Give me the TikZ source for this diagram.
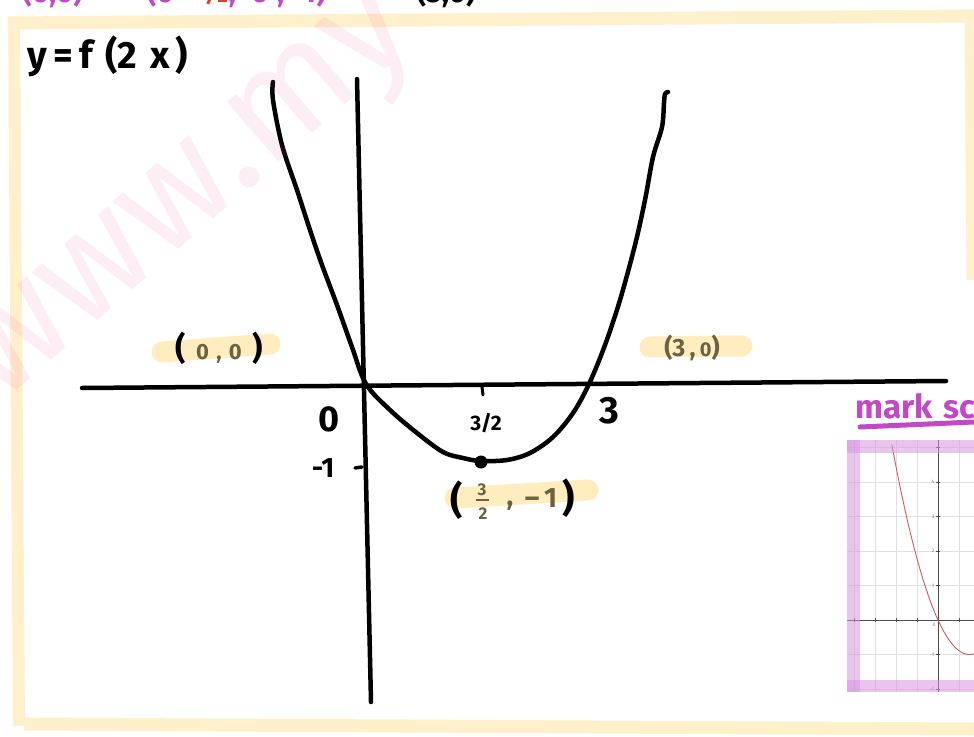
\documentclass[tikz,border=0pt]{standalone}
\usepackage{fontspec}
\setmainfont{Fira Sans}
\newfontfamily\dejavu{DejaVu Sans}
\definecolor{frameyel}{RGB}{255,240,204}
\definecolor{hlyel}{RGB}{255,237,192}
\definecolor{olivetxt}{RGB}{108,98,66}
\definecolor{mpurple}{RGB}{195,72,200}
\definecolor{mred}{RGB}{230,60,50}
\definecolor{wmpink}{RGB}{240,80,150}
\definecolor{bandpurple}{RGB}{215,150,225}
\definecolor{gridgray}{RGB}{224,224,224}
\definecolor{curvered}{RGB}{200,95,95}
\newcommand{\fs}[1]{\fontsize{#1}{#1}\selectfont}
\tikzset{
  ink/.style={black, line width=4.5pt, line cap=round, line join=round},
  hl/.style={hlyel, line width=21pt, line cap=round},
  band/.style={frameyel, line width=12pt, line cap=butt},
  pband/.style={bandpurple, opacity=0.55},
  lbl/.style={inner sep=0pt, text=black},
  tiny/.style={inner sep=0pt, text=gray, font=\fs{5}},
}
\begin{document}
\begin{tikzpicture}[x=1pt,y=-1pt]
\useasboundingbox (0,0) rectangle (974,736);
\fill[white] (0,0) rectangle (974,736);

% cut-off text at the top
\node[anchor=base west, inner sep=0pt, font=\bfseries\fs{30}] (toptext) at (22,2)
  {\textcolor{mpurple}{(0,0)\quad{\dejavu →}\;(0\,}\textcolor{mred}{×\,½}\textcolor{mpurple}{,\; 0\;,\; 4)}\qquad\quad\textcolor{black}{(3,0)}};

% yellow frame
\draw[band] (14,20) -- (19,726);
\draw[band, line width=13pt] (8,23) -- (974,16);
\draw[band, line width=13pt] (24,724) -- (974,729);
\draw[band, line width=9pt] (969,20) -- (971,280);

% title
\node[lbl, anchor=west, font=\bfseries\fs{38}] (title) at (27,56) {y\,=\,f\,\,(2\,\,x\,)};

% highlights
\draw[hl] (162,352) -- (270,344);
\draw[hl] (650,347) -- (742,346);
\draw[hl] (455,498) -- (588,490);

% axes
\draw[ink] (82,388) -- (946,381);
\draw[ink] (357,79) -- (371,702);

% ticks
\draw[ink, line width=3pt] (482,387) -- (483,395);
\draw[ink, line width=3.5pt] (355,468) -- (362,467);

% parabola
\draw[ink] plot[smooth, tension=0.55] coordinates {
  (273,82) (273,100) (282,145) (297,190) (310,230) (322,265) (337,305)
  (352,347) (366,384) (390,410) (417,433) (443,452) (463,458) (481,461)
  (507,460) (530,453) (553,437) (573,413) (589,384) (605,345) (620,300)
  (635,245) (645,200) (653,157) (662,127) (664,103) (665,94) (668,92)};
\fill (481,462) circle (6.5pt);

% axis labels
\node[lbl, font=\bfseries\fs{36}] (zero) at (329,419) {0};
\node[lbl, font=\bfseries\fs{38}] (three) at (609,411) {3};
\node[lbl, font=\bfseries\fs{21}] (threehalf) at (486,423) {3/2};
\node[lbl, font=\bfseries\fs{28}] (minusone) at (323,468) {-1};

% point labels
\node[lbl, font=\bfseries\fs{32}] (pzero) at (219,348)
  {(\,\,\textcolor{olivetxt}{\fs{22}0\,\,,\,\,0}\,\,)};
\node[lbl, font=\bfseries\fs{25}, text=olivetxt] (pthree) at (692,348)
  {(3\,,\,{\fs{20}0})};
\node[lbl, font=\bfseries\fs{38}] (lpar) at (457,500) {(};
\node[lbl, font=\bfseries\fs{17}, text=olivetxt] (num) at (482,490) {3};
\draw[olivetxt, line width=2.5pt] (476,500) -- (489,500);
\node[lbl, font=\bfseries\fs{17}, text=olivetxt] (den) at (483,514) {2};
\node[lbl, font=\bfseries\fs{28}, text=olivetxt] (vcomma) at (510,506) {,};
\node[lbl, font=\bfseries\fs{28}, text=olivetxt] (vm1) at (541,498) {–\,1};
\node[lbl, font=\bfseries\fs{38}] (rpar) at (569,498) {)};

% mark scheme heading
\node[anchor=base west, inner sep=0pt, font=\bfseries\fs{33}, text=mpurple] (ms) at (855,418) {mark\,\,scheme};
\draw[mpurple, line width=5pt, line cap=round] (860,427) -- (974,422);

% mark scheme screenshot
\begin{scope}
  \clip (847,440) rectangle (974,692);
  \fill[white] (847,440) rectangle (974,692);
  \foreach \gx in {854,875,896,917,959} \draw[gridgray, line width=0.8pt] (\gx,440) -- (\gx,692);
  \foreach \gy in {447.5,482,516.5,551,585.5,654.5,689} \draw[gridgray, line width=0.8pt] (847,\gy) -- (974,\gy);
  \draw[gray!60!black, line width=0.9pt] (847,620) -- (974,620);
  \draw[gray!60!black, line width=0.9pt] (938,440) -- (938,692);
  \foreach \gx in {854,875,896,917,959} \draw[gray!60!black, line width=0.6pt] (\gx,618) -- (\gx,622);
  \foreach \gy in {447.5,482,516.5,551,585.5,654.5,689} \draw[gray!60!black, line width=0.6pt] (936,\gy) -- (940,\gy);
  \draw[curvered, line width=0.9pt] plot[domain=-2.2:1.75, samples=60, smooth]
     ({938+21*(\x)},{620-34.5*(4/9*(\x)*(\x)-4/3*(\x))});
  \node[tiny] (t4) at (933,482) {4};
  \node[tiny] (t3) at (933,516.5) {3};
  \node[tiny] (t2) at (933,551) {2};
  \node[tiny] (t1) at (933,585.5) {1};
  \node[tiny] (tm1) at (932,654.5) {-1};
  \node[tiny] (tm2) at (932,689) {-2};
  \node[tiny] (t0) at (934,625) {0};
\end{scope}
\fill[pband] (847,440) rectangle (974,453);
\fill[pband] (847,440) rectangle (860,692);
\fill[pband] (847,680) rectangle (974,692);

% watermark
\node[anchor=base west, inner sep=0pt, rotate=41, font=\fs{150}, text=wmpink, opacity=0.1] (wm) at (0,405) {www.my};
\end{tikzpicture}
\end{document}
